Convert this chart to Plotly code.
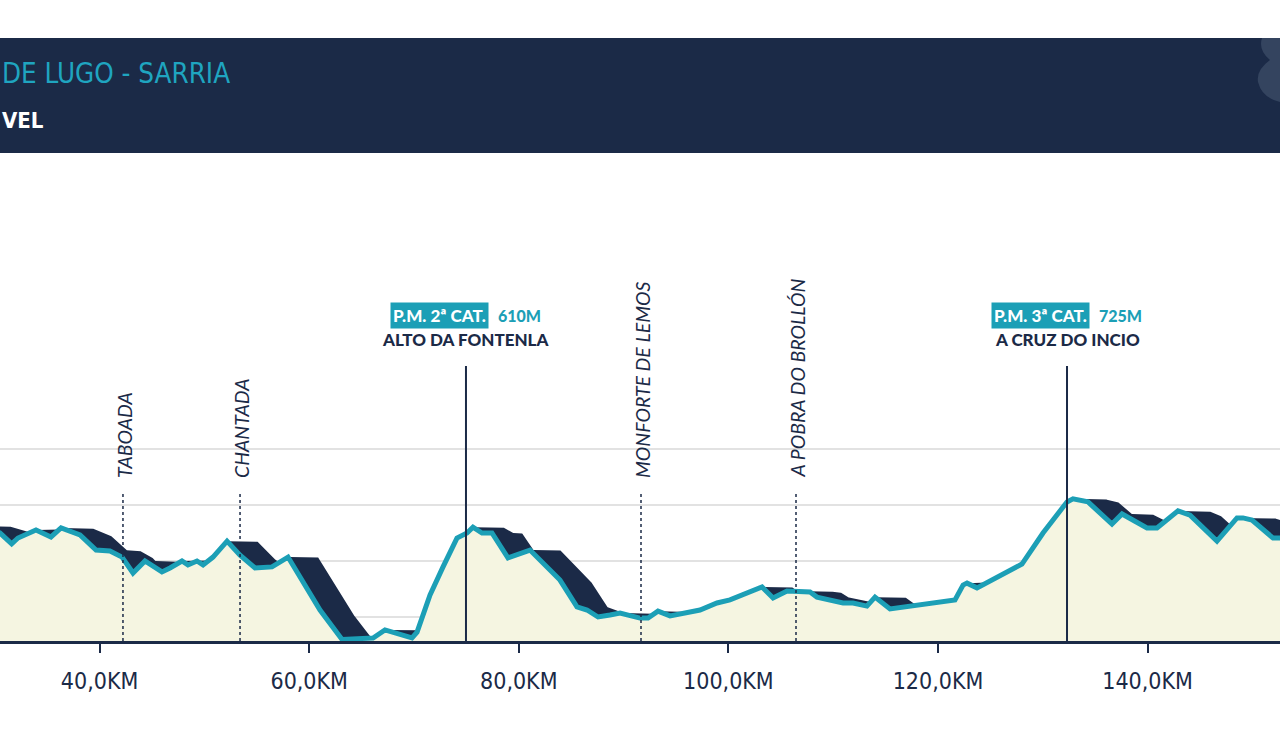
import numpy as np
import plotly.graph_objects as go

# ---------------- data ----------------
km = [28.40, 30.50, 31.61, 32.21, 33.93, 35.36, 36.32, 38.13, 39.66, 40.99,
      42.14, 43.19, 44.33, 45.95, 46.72, 47.86, 48.43, 49.29, 49.87, 50.82,
      52.16, 53.40, 54.83, 56.45, 57.98, 61.03, 63.13, 64.18, 66.09, 67.23,
      68.38, 69.81, 70.29, 71.53, 72.77, 74.10, 75.06, 75.63, 76.49, 77.44,
      78.97, 79.83, 81.07, 83.93, 85.55, 86.51, 87.56, 88.70, 89.66, 91.56,
      92.33, 93.28, 94.43, 97.29, 98.91, 100.15, 103.21, 104.26, 105.59, 107.79,
      108.45, 110.94, 111.89, 113.22, 113.99, 115.42, 118.95, 120.86, 121.62, 122.39,
      122.77, 123.72, 125.92, 128.01, 130.02, 132.31, 132.88, 134.31, 136.60, 137.56,
      139.94, 140.90, 142.90, 144.05, 146.62, 148.53, 149.10, 149.96, 151.97, 153.60]
elev = [625, 600, 561, 582, 611, 586, 618, 593, 539, 536,
        514, 457, 500, 461, 475, 500, 486, 500, 486, 514,
        571, 521, 475, 479, 514, 325, 220, 222, 225, 254,
        243, 225, 246, 379, 479, 582, 600, 621, 600, 600,
        511, 521, 539, 432, 336, 325, 300, 307, 314, 296,
        296, 321, 304, 325, 350, 361, 407, 368, 393, 389,
        371, 350, 350, 339, 371, 329, 346, 354, 361, 414,
        421, 404, 450, 489, 600, 711, 722, 711, 632, 668,
        618, 618, 679, 664, 571, 654, 654, 646, 582, 582]

town_names = ["TABOADA", "CHANTADA", "MONFORTE DE LEMOS", "A POBRA DO BROLLÓN"]
town_km = [42.23, 53.40, 91.66, 106.45]

climb_km = [74.96, 132.31]
climb_cat = ["P.M. 2ª CAT.", "P.M. 3ª CAT."]
climb_alt = ["610M", "725M"]
climb_name = ["ALTO DA FONTENLA", "A CRUZ DO INCIO"]

tick_km = [20, 40, 60, 80, 100, 120, 140, 160]
tick_text = ["20,0KM", "40,0KM", "60,0KM", "80,0KM", "100,0KM", "120,0KM", "140,0KM", "160,0KM"]
grid_elev = [300, 500, 700, 900]

title_text = "DE LUGO - SARRIA"
subtitle_text = "VEL"

# ---------------- style ----------------
NAVY = "#1b2a47"
TEAL = "#1c9fb6"
CREAM = "#f5f5e1"
SHADOW_KM = 2.86
COND = "'Liberation Sans Narrow', 'DejaVu Sans Condensed', 'Roboto Condensed', Roboto, sans-serif"

W, H = 1280, 732
T, B = 160, 91
plot_h = H - T - B
X0 = 30.496
X1 = X0 + W / 10.48
Y0 = 214.3
Y1 = Y0 + plot_h * 3.5714


def py(p):  # pixel row -> paper fraction
    return (H - B - p) / plot_h


def px(p):
    return p / W


# running-max "extrusion" shadow derived from the profile
g = np.linspace(km[0], km[-1], 5000)
e = np.interp(g, km, elev)
n = int(round(SHADOW_KM / (g[1] - g[0])))
sh = e.copy()
for k in range(1, n + 1):
    sh[k:] = np.maximum(sh[k:], e[:-k])

fig = go.Figure()
fig.add_trace(go.Scatter(x=g, y=sh, mode="lines", line=dict(width=0, color=NAVY),
                         fill="tozeroy", fillcolor=NAVY, hoverinfo="skip", showlegend=False))
fig.add_trace(go.Scatter(x=km, y=elev, mode="lines", line=dict(width=0, color=CREAM),
                         fill="tozeroy", fillcolor=CREAM, hoverinfo="skip", showlegend=False))

shapes = []
for tk in town_km:
    shapes.append(dict(type="line", xref="x", yref="paper", x0=tk, x1=tk, y0=0, y1=py(491),
                       line=dict(color=NAVY, width=1.5, dash="dot"), layer="above"))
for ck in climb_km:
    shapes.append(dict(type="line", xref="x", yref="paper", x0=ck, x1=ck, y0=0, y1=py(366),
                       line=dict(color=NAVY, width=2), layer="above"))
shapes.append(dict(type="rect", xref="paper", yref="paper", x0=0, x1=1, y0=py(153), y1=py(38),
                   fillcolor=NAVY, line=dict(width=0), layer="above"))
pts = [(1262, 38), (1258, 50), (1270, 60), (1256, 70), (1258, 82), (1262, 98), (1280, 102)]
path = "M {},{} Q {},{} {},{} Q {},{} {},{} Q {},{} {},{} L {},{} Z".format(
    px(pts[0][0]), py(pts[0][1]), px(pts[1][0]), py(pts[1][1]), px(pts[2][0]), py(pts[2][1]),
    px(pts[3][0]), py(pts[3][1]), px(pts[4][0]), py(pts[4][1]),
    px(pts[5][0]), py(pts[5][1]), px(pts[6][0]), py(pts[6][1]),
    px(1280), py(38))
shapes.append(dict(type="path", xref="paper", yref="paper", path=path,
                   fillcolor="#34445f", line=dict(width=0), layer="above"))

fig.add_trace(go.Scatter(x=km, y=elev, mode="lines", line=dict(width=5, color=TEAL),
                         hoverinfo="skip", showlegend=False))

ann = []
for name, tk in zip(town_names, town_km):
    ann.append(dict(x=tk, xref="x", y=py(480), yref="paper", text=name, textangle=-90,
                    showarrow=False, xanchor="center", yanchor="bottom", xshift=1,
                    font=dict(family="Lato", size=19.5, color=NAVY, style="italic")))
for ck, cat, alt, nm in zip(climb_km, climb_cat, climb_alt, climb_name):
    ann.append(dict(x=ck, xref="x", y=py(315), yref="paper", text=cat, showarrow=False,
                    xanchor="right", yanchor="middle", xshift=23, bgcolor=TEAL, borderpad=2,
                    font=dict(family="Lato", size=17, color="white", weight=900)))
    ann.append(dict(x=ck, xref="x", y=py(315), yref="paper", text=alt, showarrow=False,
                    xanchor="left", yanchor="middle", xshift=30,
                    font=dict(family="Lato", size=16, color=TEAL, weight=900)))
    ann.append(dict(x=ck, xref="x", y=py(339), yref="paper", text=nm, showarrow=False,
                    xanchor="center", yanchor="middle",
                    font=dict(family="Lato", size=17, color=NAVY, weight=900)))
ann.append(dict(x=px(0), xref="paper", y=py(73), yref="paper", text=title_text, showarrow=False,
                xanchor="left", yanchor="middle",
                font=dict(family=COND, size=27.5, color="#1fa5c0")))
ann.append(dict(x=px(0), xref="paper", y=py(121), yref="paper", text="<b>" + subtitle_text + "</b>",
                showarrow=False, xanchor="left", yanchor="middle",
                font=dict(family=COND, size=22, color="white")))

fig.update_layout(
    width=W, height=H, margin=dict(l=0, r=0, t=T, b=B),
    paper_bgcolor="white", plot_bgcolor="white",
    shapes=shapes, annotations=ann, showlegend=False,
    xaxis=dict(range=[X0, X1], tickvals=tick_km, ticktext=tick_text, showgrid=False,
               zeroline=False, showline=True, linecolor=NAVY, linewidth=3,
               ticks="outside", ticklen=9, tickwidth=2, tickcolor=NAVY,
               ticklabelstandoff=8,
               tickfont=dict(family=COND, size=23, color=NAVY)),
    yaxis=dict(range=[Y0, Y1], tickvals=grid_elev, showticklabels=False, showgrid=True,
               gridcolor="#e2e2e2", gridwidth=2, zeroline=False, showline=False),
)
fig.write_html("out.html")
